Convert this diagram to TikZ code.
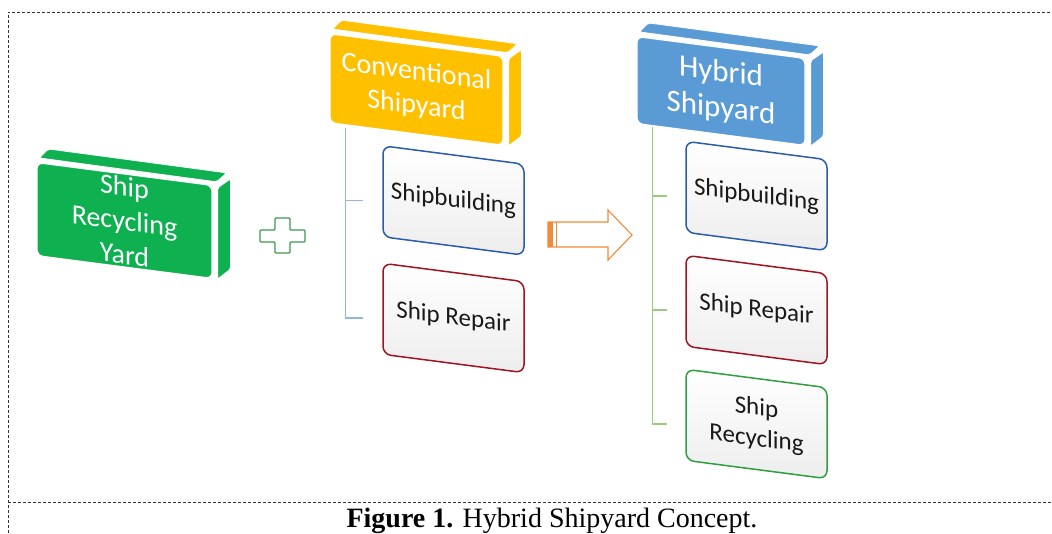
\documentclass[tikz,border=0pt]{standalone}
\usepackage{fontspec}
\setmainfont{Carlito}
\newfontfamily\capfont{Liberation Serif}
\usetikzlibrary{calc}
\definecolor{gyard}{HTML}{0FB050}
\definecolor{oyard}{HTML}{FFC000}
\definecolor{byard}{HTML}{5B9BD5}
\definecolor{bline}{HTML}{2A5CAA}
\definecolor{rline}{HTML}{9E1420}
\definecolor{gline}{HTML}{2E9E3E}
\definecolor{bconn}{HTML}{8DB9E2}
\definecolor{gconn}{HTML}{9CCB7E}
\definecolor{arrowc}{HTML}{F08A3C}
\definecolor{plusc}{HTML}{3C9A50}
\newcommand\blockfaces[2]{%
  \path[fill=#2, draw=white, line width=0.8pt, rounded corners=2pt]
    ($(#1.north west)+(3,-4)$) -- ($(#1.north west)+(12,-13)$) --
    ($(#1.north east)+(14,-12)$) -- ($(#1.north east)+(4,-3)$) -- cycle;
  \path[fill=#2, draw=white, line width=0.8pt, rounded corners=2pt]
    ($(#1.north east)+(5,3)$) -- ($(#1.north east)+(18,-6)$) --
    ($(#1.south east)+(18,-10)$) -- ($(#1.south east)+(5,0)$) -- cycle;
}
\begin{document}
\begin{tikzpicture}[x=1pt,y=-1pt,
  blockfront/.style={draw=white, line width=1.2pt, rounded corners=6pt, yslant=-0.13,
    align=center, text=white, inner sep=0pt},
  subbox/.style={draw=#1, line width=1.5pt, rounded corners=8pt, yslant=-0.13,
    top color=white, bottom color=black!7, align=center, text=black!90,
    minimum width=141pt, minimum height=91pt, inner sep=0pt,
    font=\fontsize{25}{31}\selectfont},
  bconnector/.style={draw=bconn, line width=1.5pt},
  gconnector/.style={draw=gconn, line width=1.5pt},
  border/.style={draw=black!80, line width=0.9pt, dash pattern=on 3pt off 2pt}
]
\useasboundingbox (0,0) rectangle (1052,533);
% frame
\coordinate (f1) at (8,533);
\coordinate (f2) at (8,12);
\coordinate (f3) at (1052,12);
\coordinate (s1) at (8,502);
\coordinate (s2) at (1052,502);
\draw[border] (f1) -- (f2) -- (f3);
\draw[border] (s1) -- (s2);

% blocks
\node[blockfront, fill=gyard, minimum width=175pt, minimum height=93pt,
  font=\fontsize{28}{34}\selectfont] (gy) at (124.5,220.5) {Ship\\Recycling\\Yard};
\blockfaces{gy}{gyard}
\node[blockfront, fill=oyard, minimum width=173pt, minimum height=89pt,
  font=\fontsize{28}{34}\selectfont] (cy) at (416.5,89.5) {Conventional\\Shipyard};
\blockfaces{cy}{oyard}
\node[blockfront, fill=byard, minimum width=168pt, minimum height=87pt,
  font=\fontsize{31}{36}\selectfont] (hy) at (721,91) {Hybrid\\Shipyard};
\blockfaces{hy}{byard}

% sub boxes
\node[subbox=bline] (cb) at (453.5,200.5) {Shipbuilding};
\node[subbox=rline] (cr) at (453.5,318) {Ship Repair};
\node[subbox=bline] (hb) at (756.5,196) {Shipbuilding};
\node[subbox=rline] (hr) at (756.5,310) {Ship Repair};
\node[subbox=gline] (hc) at (756.5,424) {Ship\\Recycling};

% connectors conventional
\coordinate (ctop) at ($(cy.south west)+(16,5)$);
\coordinate (ck1) at ($(cb.west |- cb.center)+(-19,0)$);
\coordinate (ck2) at ($(cr.west |- cr.center)+(-19,0)$);
\draw[bconnector] (ctop) |- (ck2);
\draw[bconnector] (ctop |- ck1) -- (ck1);
% connectors hybrid
\coordinate (htop) at ($(hy.south west)+(16,3)$);
\coordinate (hk1) at ($(hb.west |- hb.center)+(-18,0)$);
\coordinate (hk2) at ($(hr.west |- hr.center)+(-18,0)$);
\coordinate (hk3) at ($(hc.west |- hc.center)+(-18,0)$);
\draw[gconnector] (htop) |- (hk3);
\draw[gconnector] (htop |- hk1) -- (hk1);
\draw[gconnector] (htop |- hk2) -- (hk2);

% plus sign
\path[draw=plusc, line width=1.2pt, fill=white, rounded corners=1pt]
  (275,218) -- (290,218) -- (290,230) -- (305,230) -- (305,242) -- (290,242)
  -- (290,253) -- (275,253) -- (275,242) -- (260,242) -- (260,230) -- (275,230) -- cycle;

% arrow
\path[draw=arrowc, line width=1.1pt, fill=white, line join=miter]
  (548,222) -- (608,222) -- (608,210) -- (632,235) -- (608,260) -- (608,247) -- (548,247) -- cycle;
\fill[arrowc] (548,222) rectangle (553,247);
\draw[arrowc, line width=1pt] (556.5,222) -- (556.5,247);

% caption
\node[font=\capfont\fontsize{28}{33}\selectfont, anchor=base, inner sep=0pt] (cap) at (552,527)
  {\textbf{Figure 1.} Hybrid Shipyard Concept.};
\end{tikzpicture}
\end{document}
